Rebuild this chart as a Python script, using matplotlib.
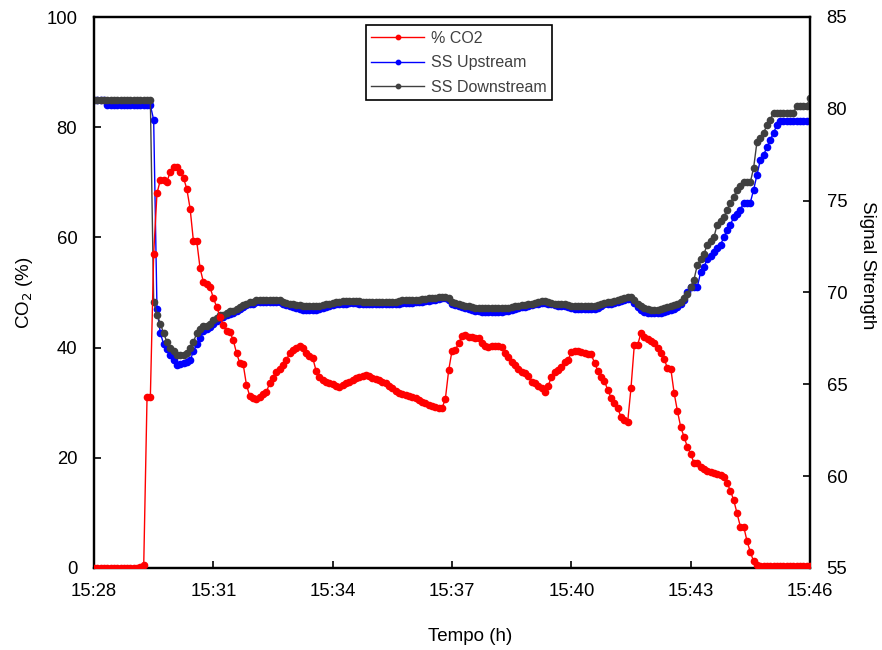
import matplotlib
matplotlib.use("Agg")
import matplotlib.pyplot as plt
import numpy as np

plt.rcParams['font.family'] = ['Liberation Sans', 'DejaVu Sans']

# One reading every 5 s from 15:28:00 to 15:46:00 (12 readings per row = 1 minute)
sample_step_s = 5
tick_minutes = [0, 3, 6, 9, 12, 15, 18]
tick_labels = ["15:28", "15:31", "15:34", "15:37", "15:40", "15:43", "15:46"]

co2_pct = [
    0.0, 0.0, 0.0, 0.0, 0.0, 0.0, 0.0, 0.0, 0.0, 0.0, 0.0, 0.0,
    0.0, 0.0, 0.2, 0.5, 31.0, 31.0, 57.0, 68.0, 70.4, 70.4, 70.1, 71.9,
    72.8, 72.8, 71.9, 70.8, 68.8, 65.2, 59.3, 59.3, 54.4, 51.9, 51.5, 51.0,
    49.0, 47.4, 45.6, 44.1, 43.0, 42.8, 41.4, 39.0, 37.2, 37.0, 33.2, 31.2,
    30.8, 30.6, 31.0, 31.5, 31.9, 33.6, 34.5, 35.6, 36.2, 36.8, 37.7, 39.0,
    39.5, 39.9, 40.3, 40.0, 39.0, 38.5, 38.1, 35.8, 34.7, 34.2, 33.8, 33.6,
    33.4, 33.1, 32.8, 33.2, 33.6, 33.8, 34.1, 34.4, 34.7, 34.9, 35.0, 34.8,
    34.5, 34.3, 34.1, 33.8, 33.6, 33.1, 32.7, 32.2, 31.8, 31.6, 31.4, 31.2,
    31.0, 30.8, 30.5, 30.2, 29.9, 29.6, 29.4, 29.2, 29.0, 29.0, 30.7, 35.9,
    39.4, 39.6, 40.8, 42.1, 42.3, 42.0, 41.9, 41.8, 41.7, 40.8, 40.3, 40.1,
    40.2, 40.3, 40.3, 40.1, 39.0, 38.3, 37.4, 36.8, 36.1, 35.6, 35.4, 34.8,
    33.8, 33.6, 33.0, 32.7, 31.9, 33.0, 34.7, 35.6, 35.9, 36.5, 37.4, 37.7,
    39.2, 39.4, 39.4, 39.2, 39.0, 38.9, 38.8, 37.2, 35.8, 34.7, 33.9, 32.3,
    30.9, 29.9, 29.0, 27.4, 26.8, 26.5, 32.7, 40.5, 40.5, 42.6, 41.9, 41.6,
    41.2, 40.9, 39.9, 39.1, 37.9, 36.3, 36.2, 31.8, 28.5, 25.6, 23.8, 22.0,
    20.7, 19.1, 19.0, 18.4, 18.0, 17.6, 17.4, 17.2, 17.0, 16.8, 16.5, 15.4,
    14.0, 12.3, 9.9, 7.5, 7.5, 4.9, 2.9, 1.2, 0.6, 0.4, 0.3, 0.3,
    0.3, 0.3, 0.3, 0.3, 0.3, 0.3, 0.3, 0.3, 0.3, 0.3, 0.3, 0.3,
    0.3,
]

ss_upstream = [
    80.5, 80.5, 80.5, 80.5, 80.2, 80.2, 80.2, 80.2, 80.2, 80.2, 80.2, 80.2,
    80.2, 80.2, 80.2, 80.2, 80.2, 80.2, 79.4, 69.1, 67.8, 67.2, 66.9, 66.6,
    66.3, 66.05, 66.1, 66.15, 66.2, 66.3, 66.8, 67.2, 67.5, 67.9, 68.0, 68.1,
    68.3, 68.45, 68.6, 68.65, 68.75, 68.85, 68.9, 69.0, 69.1, 69.2, 69.3, 69.4,
    69.4, 69.5, 69.5, 69.5, 69.5, 69.5, 69.5, 69.5, 69.5, 69.35, 69.3, 69.25,
    69.2, 69.15, 69.1, 69.05, 69.05, 69.05, 69.05, 69.05, 69.1, 69.15, 69.2, 69.25,
    69.3, 69.35, 69.4, 69.4, 69.4, 69.42, 69.42, 69.42, 69.4, 69.38, 69.36, 69.35,
    69.35, 69.35, 69.35, 69.35, 69.35, 69.35, 69.35, 69.35, 69.4, 69.45, 69.45, 69.45,
    69.45, 69.48, 69.5, 69.5, 69.52, 69.55, 69.58, 69.6, 69.65, 69.68, 69.68, 69.6,
    69.4, 69.3, 69.25, 69.2, 69.15, 69.1, 69.05, 69.0, 68.97, 68.95, 68.95, 68.95,
    68.95, 68.95, 68.95, 68.95, 68.97, 69.0, 69.05, 69.1, 69.15, 69.2, 69.22, 69.25,
    69.3, 69.35, 69.4, 69.45, 69.45, 69.4, 69.35, 69.3, 69.28, 69.27, 69.25, 69.2,
    69.15, 69.1, 69.08, 69.08, 69.08, 69.08, 69.08, 69.08, 69.15, 69.25, 69.35, 69.4,
    69.4, 69.45, 69.5, 69.55, 69.6, 69.65, 69.65, 69.45, 69.2, 69.05, 68.95, 68.9,
    68.88, 68.88, 68.88, 68.9, 68.95, 69.0, 69.05, 69.1, 69.2, 69.35, 69.6, 70.0,
    70.3, 70.3, 70.3, 71.1, 71.4, 71.8, 72.0, 72.2, 72.4, 72.6, 73.0, 73.4,
    73.7, 74.1, 74.3, 74.5, 74.9, 74.9, 74.9, 75.6, 76.4, 77.2, 77.5, 77.9,
    78.3, 78.7, 79.1, 79.35, 79.35, 79.35, 79.35, 79.35, 79.35, 79.35, 79.35, 79.35,
    79.35,
]

ss_downstream = [
    80.5, 80.5, 80.5, 80.5, 80.5, 80.5, 80.5, 80.5, 80.5, 80.5, 80.5, 80.5,
    80.5, 80.5, 80.5, 80.5, 80.5, 80.5, 69.5, 68.8, 68.3, 67.8, 67.3, 67.0,
    66.8, 66.6, 66.6, 66.6, 66.7, 67.0, 67.3, 67.8, 68.0, 68.2, 68.2, 68.3,
    68.5, 68.6, 68.8, 68.8, 68.9, 69.0, 69.0, 69.1, 69.2, 69.3, 69.4, 69.5,
    69.5, 69.6, 69.6, 69.6, 69.6, 69.6, 69.6, 69.6, 69.6, 69.5, 69.45, 69.4,
    69.35, 69.3, 69.3, 69.25, 69.24, 69.24, 69.24, 69.24, 69.26, 69.3, 69.35, 69.4,
    69.45, 69.48, 69.5, 69.52, 69.53, 69.53, 69.53, 69.53, 69.52, 69.5, 69.5, 69.5,
    69.5, 69.5, 69.5, 69.5, 69.5, 69.5, 69.5, 69.5, 69.55, 69.6, 69.6, 69.6,
    69.6, 69.6, 69.6, 69.62, 69.65, 69.7, 69.7, 69.72, 69.75, 69.77, 69.77, 69.7,
    69.5, 69.45, 69.4, 69.33, 69.28, 69.24, 69.2, 69.17, 69.15, 69.14, 69.14, 69.14,
    69.14, 69.14, 69.14, 69.14, 69.14, 69.16, 69.2, 69.24, 69.28, 69.3, 69.32, 69.35,
    69.4, 69.45, 69.5, 69.55, 69.55, 69.5, 69.45, 69.4, 69.4, 69.4, 69.38, 69.32,
    69.28, 69.25, 69.24, 69.24, 69.24, 69.24, 69.24, 69.24, 69.3, 69.38, 69.45, 69.5,
    69.5, 69.55, 69.6, 69.65, 69.7, 69.77, 69.77, 69.6, 69.4, 69.25, 69.15, 69.1,
    69.05, 69.05, 69.05, 69.1, 69.15, 69.2, 69.25, 69.3, 69.35, 69.5, 69.7, 69.9,
    70.3, 70.7, 71.5, 71.8, 72.1, 72.6, 72.8, 73.0, 73.7, 73.9, 74.1, 74.5,
    74.9, 75.2, 75.6, 75.8, 76.0, 76.0, 76.0, 76.8, 78.2, 78.4, 78.7, 79.1,
    79.4, 79.8, 79.8, 79.8, 79.8, 79.8, 79.8, 79.8, 80.15, 80.15, 80.15, 80.15,
    80.6,
]

minutes = np.arange(len(co2_pct)) * sample_step_s / 60.0

fig = plt.figure(figsize=(8.82, 6.5), dpi=100)
ax = fig.add_axes([94 / 882, 82 / 650, 716 / 882, 551 / 650])
ax2 = ax.twinx()

# Signal strength series on the secondary axis, CO2 drawn on top
l_dn, = ax2.plot(minutes, ss_downstream, color="#404040", lw=1.0, marker="o",
                 ms=4.5, mec="#404040", mfc="#404040", label="SS Downstream", zorder=3)
l_up, = ax2.plot(minutes, ss_upstream, color="#0000FF", lw=1.0, marker="o",
                 ms=4.5, mec="#0000FF", mfc="#0000FF", label="SS Upstream", zorder=2)
l_co2, = ax.plot(minutes, co2_pct, color="#FF0000", lw=1.0, marker="o",
                 ms=4.5, mec="#FF0000", mfc="#FF0000", label="% CO2", zorder=3)

ax.set_zorder(ax2.get_zorder() + 1)
ax.patch.set_visible(False)

ax.set_xlim(0, 18)
ax.set_ylim(0, 100)
ax2.set_ylim(55, 85)
ax.set_xticks(tick_minutes)
ax.set_xticklabels(tick_labels)
ax.set_yticks([0, 20, 40, 60, 80, 100])
ax2.set_yticks([55, 60, 65, 70, 75, 80, 85])

for a in (ax, ax2):
    for s in a.spines.values():
        s.set_linewidth(1.6)
        s.set_color("black")

ax.tick_params(axis="both", direction="in", length=5, width=1.2, labelsize=13.3,
               colors="black")
ax.tick_params(axis="x", pad=10.5)
ax.tick_params(axis="y", pad=12)
ax2.tick_params(axis="y", direction="in", length=5, width=1.2, labelsize=13.3, pad=12)

ax.set_xlabel("Tempo (h)", fontsize=13.5, va="center")
ax.xaxis.set_label_coords(0.525, -0.124)
ax.set_ylabel("CO$_2$ (%)", fontsize=13.5, va="center", ha="center")
ax.yaxis.set_label_coords(-0.097, 0.5)
ax2.set_ylabel("Signal Strength", fontsize=13.5, rotation=-90, va="center", ha="center")
ax2.yaxis.set_label_coords(1.08, 0.55)

leg = ax.legend(handles=[l_co2, l_up, l_dn], loc="upper center",
                bbox_to_anchor=(0.5098, 0.9855), fontsize=11.5, frameon=True,
                fancybox=False, edgecolor="black", framealpha=1,
                handlelength=3.3, markerscale=0.7, borderpad=0.35,
                labelspacing=0.6, handletextpad=0.45, borderaxespad=0)
leg.get_frame().set_linewidth(1.2)
for t in leg.get_texts():
    t.set_color("#404040")

fig.savefig("out.png", dpi=100)
